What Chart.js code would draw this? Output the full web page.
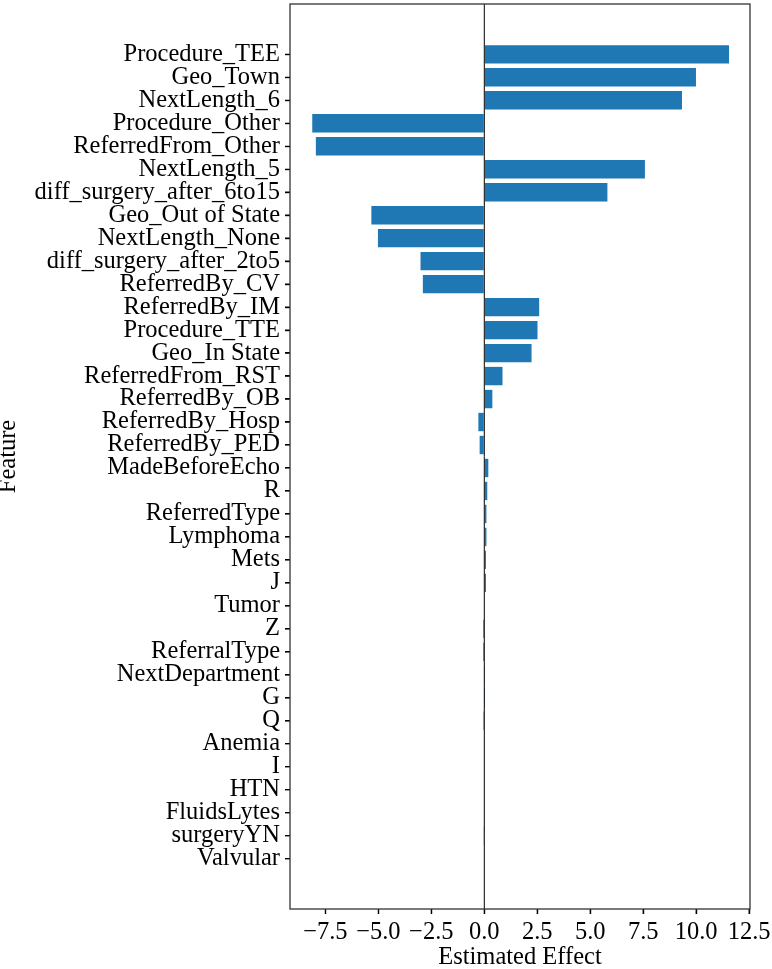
<!DOCTYPE html>
<html>
<head>
<meta charset="utf-8">
<script src="https://cdn.jsdelivr.net/npm/chart.js@4"></script>
<style>
  html, body { margin: 0; padding: 0; background: #fff; }
  #wrap { width: 772px; height: 969px; }
</style>
</head>
<body>
<div id="wrap"><canvas id="effects"></canvas></div>
<script>
const features = ['Procedure_TEE', 'Geo_Town', 'NextLength_6', 'Procedure_Other', 'ReferredFrom_Other',
  'NextLength_5', 'diff_surgery_after_6to15', 'Geo_Out of State', 'NextLength_None', 'diff_surgery_after_2to5',
  'ReferredBy_CV', 'ReferredBy_IM', 'Procedure_TTE', 'Geo_In State', 'ReferredFrom_RST', 'ReferredBy_OB',
  'ReferredBy_Hosp', 'ReferredBy_PED', 'MadeBeforeEcho', 'R', 'ReferredType', 'Lymphoma', 'Mets', 'J',
  'Tumor', 'Z', 'ReferralType', 'NextDepartment', 'G', 'Q', 'Anemia', 'I', 'HTN', 'FluidsLytes',
  'surgeryYN', 'Valvular'];

const effects = [11.55, 9.99, 9.33, -8.12, -7.95,
  7.58, 5.81, -5.33, -5.02, -3.01,
  -2.90, 2.59, 2.51, 2.23, 0.86, 0.38,
  -0.28, -0.22, 0.19, 0.14, 0.10, 0.10, 0.08, 0.08,
  0.03, -0.06, -0.06, 0.01, 0.005, -0.05, 0, 0, 0, 0,
  -0.02, 0];

const xTicks = [-7.5, -5.0, -2.5, 0.0, 2.5, 5.0, 7.5, 10.0, 12.5];

const FONT = 'Liberation Serif, Times New Roman, serif';
const FSIZE = 24.5;

// frame round the plot, tick marks and the vertical line at zero
const framePlugin = {
  id: 'frame',
  afterDatasetsDraw(chart) {
    const { ctx, chartArea: a, scales } = chart;
    const x0 = scales.x.getPixelForValue(0);
    ctx.save();
    ctx.strokeStyle = '#000';
    ctx.lineWidth = 1;
    ctx.beginPath();
    ctx.moveTo(x0, a.top);
    ctx.lineTo(x0, a.bottom);
    ctx.stroke();

    ctx.lineWidth = 1.2;
    ctx.beginPath();
    features.forEach((f, i) => {
      const y = scales.y.getPixelForValue(i);
      ctx.moveTo(a.left - 5, y);
      ctx.lineTo(a.left, y);
    });
    xTicks.forEach(v => {
      const x = scales.x.getPixelForValue(v);
      ctx.moveTo(x, a.bottom);
      ctx.lineTo(x, a.bottom + 5);
    });
    ctx.stroke();

    ctx.strokeStyle = '#333';
    ctx.lineWidth = 1.3;
    ctx.strokeRect(a.left, a.top, a.right - a.left, a.bottom - a.top);
    ctx.restore();
  }
};

new Chart(document.getElementById('effects'), {
  type: 'bar',
  data: {
    datasets: [{
      data: effects.map((v, i) => ({ x: v, y: i })),
      backgroundColor: '#1f77b4',
      borderWidth: 0,
      barPercentage: 0.8,
      categoryPercentage: 1.0
    }]
  },
  options: {
    indexAxis: 'y',
    responsive: true,
    maintainAspectRatio: false,
    animation: false,
    layout: { padding: { top: 4, right: 22, left: 0, bottom: 0 } },
    plugins: { legend: { display: false }, tooltip: { enabled: false } },
    scales: {
      x: {
        type: 'linear',
        min: -9.17,
        max: 12.54,
        afterBuildTicks: s => { s.ticks = xTicks.map(v => ({ value: v })); },
        afterFit: s => { s.height = 60; s.paddingLeft = 0; s.paddingRight = 0; },
        grid: { drawOnChartArea: false, drawTicks: true, tickLength: 5, lineWidth: 1.2, color: '#000' },
        border: { display: false },
        ticks: {
          color: '#000',
          padding: 4,
          font: { family: FONT, size: FSIZE },
          callback: v => v.toFixed(1).replace('-', '\u2212')
        },
        title: {
          display: true,
          text: 'Estimated Effect',
          color: '#000',
          padding: { top: 0, bottom: 0 },
          font: { family: FONT, size: FSIZE, lineHeight: 0.95 }
        }
      },
      y: {
        type: 'linear',
        reverse: true,
        offset: false,
        min: -2.19,
        max: 37.19,
        afterBuildTicks: s => { s.ticks = features.map((f, i) => ({ value: i })); },
        afterFit: s => { s.width = 290; s.paddingTop = 0; s.paddingBottom = 0; },
        grid: { offset: false, drawOnChartArea: false, drawTicks: true, tickLength: 5, lineWidth: 1.2, color: '#000' },
        border: { display: false },
        ticks: {
          color: '#000',
          padding: 5,
          autoSkip: false,
          font: { family: FONT, size: FSIZE },
          callback: v => features[v]
        },
        title: {
          display: true,
          text: 'Feature',
          color: '#000',
          padding: 0,
          font: { family: FONT, size: FSIZE, lineHeight: 0.7 }
        }
      }
    }
  },
  plugins: [framePlugin]
});
</script>
</body>
</html>
